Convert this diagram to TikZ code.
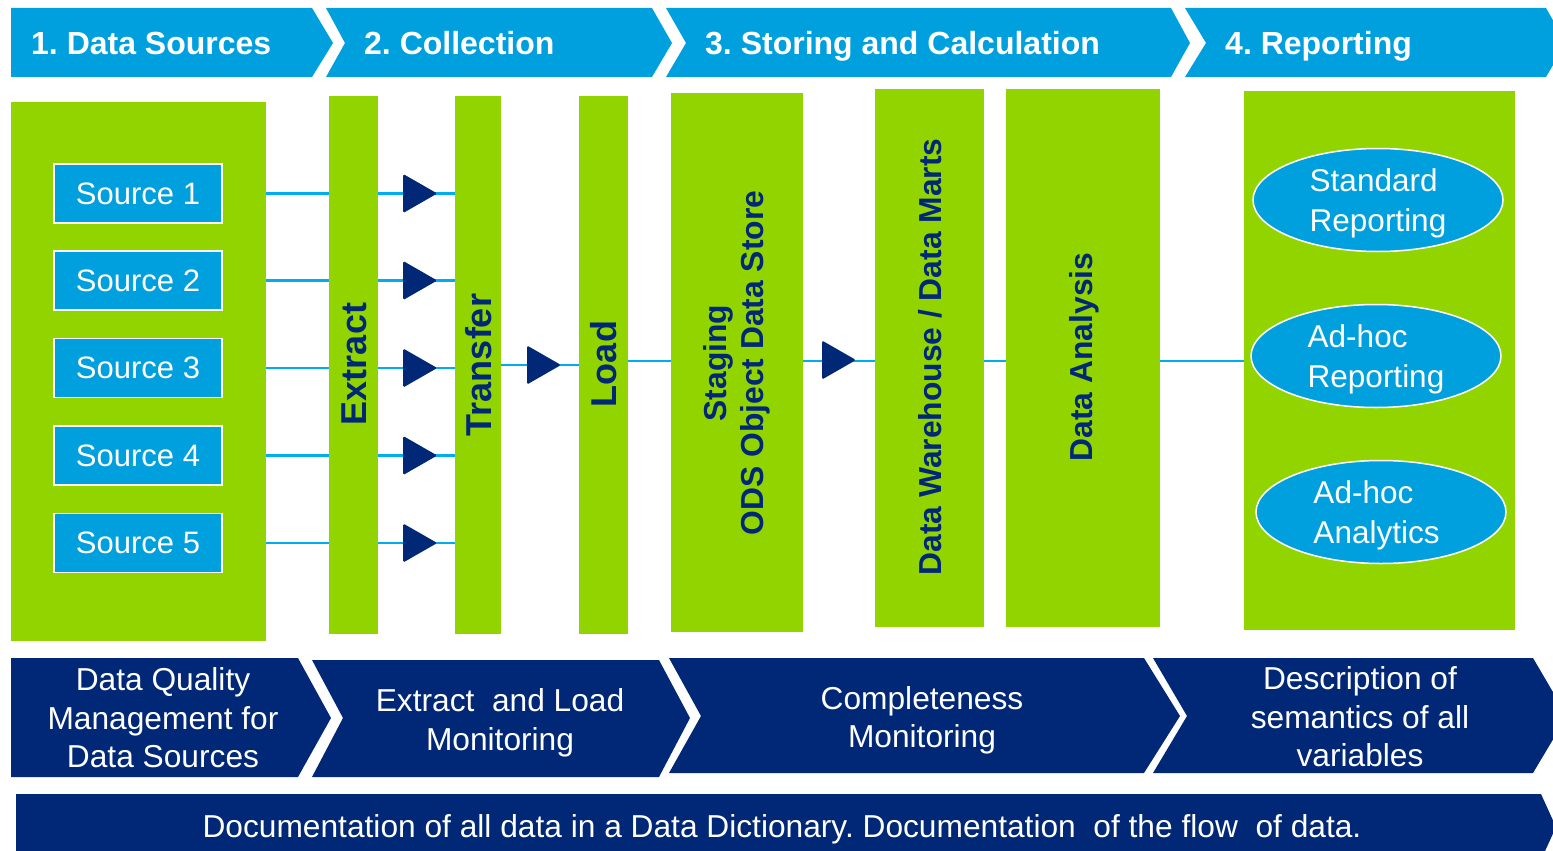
\documentclass[tikz,border=0pt]{standalone}
\usepackage{fontspec}
\setmainfont{Liberation Sans}
\usetikzlibrary{shapes.geometric,calc}
\definecolor{lblue}{RGB}{0,160,223}
\definecolor{lgreen}{RGB}{146,212,0}
\definecolor{navy}{RGB}{0,40,118}
\definecolor{wirec}{RGB}{0,174,239}
\frenchspacing
\begin{document}
\begin{tikzpicture}[x=1pt,y=-1pt,
  block/.style={fill=lgreen,draw=none,inner sep=0pt},
  srcbox/.style={fill=lblue,draw=white,line width=1.5pt,minimum width=168pt,minimum height=59pt,inner sep=0pt,text=white,font=\fontsize{31}{37}\selectfont},
  vlabel/.style={rotate=90,text=navy,font=\bfseries\fontsize{31.8}{37}\selectfont,align=center,inner sep=0pt},
  vbig/.style={vlabel,font=\bfseries\fontsize{36}{40}\selectfont},
  wire/.style={draw=wirec,line width=2.2pt},
  phase/.style={fill=lblue},
  phasetext/.style={anchor=base west,text=white,font=\bfseries\fontsize{32}{38}\selectfont,inner sep=0pt},
  bar/.style={fill=navy},
  bartext/.style={text=white,align=center,text depth=0pt,font=\fontsize{31.7}{38.5}\selectfont,inner sep=0pt},
  report/.style={ellipse,fill=lblue,draw=white,line width=1.5pt,minimum width=250pt,minimum height=103pt,inner sep=0pt,text=white,align=left,text depth=0pt,font=\fontsize{31.5}{40}\selectfont},
  navytri/.pic={\fill[navy,rounded corners=1.5pt] (-17,-19.5) -- (17,0) -- (-17,19.5) -- cycle;}
]
\useasboundingbox (0,0) rectangle (1553,851);
\clip (0,0) rectangle (1553,851);

% green blocks
\node[block,minimum width=255pt,minimum height=539pt] (src) at (138.5,371.5) {};
\node[block,minimum width=49pt,minimum height=538pt] (extract) at (353.5,365) {};
\node[block,minimum width=46pt,minimum height=538pt] (transfer) at (478,365) {};
\node[block,minimum width=49pt,minimum height=538pt] (load) at (603.5,365) {};
\node[block,minimum width=132pt,minimum height=539pt] (staging) at (737,362.5) {};
\node[block,minimum width=109pt,minimum height=538pt] (dw) at (929.5,358) {};
\node[block,minimum width=154pt,minimum height=538pt] (da) at (1083,358) {};
\node[block,minimum width=271pt,minimum height=539pt] (rep) at (1379.5,360.5) {};

% sources
\node[srcbox] (s1) at (138,193.5) {Source 1};
\node[srcbox] (s2) at (138,280.5) {Source 2};
\node[srcbox] (s3) at (138,368) {Source 3};
\node[srcbox] (s4) at (138,455.5) {Source 4};
\node[srcbox] (s5) at (138,543) {Source 5};

% vertical labels
\node[vbig] (lextract) at (354,364) {Extract};
\node[vbig] (ltransfer) at (479,365) {Transfer};
\node[vbig] (lload) at (604,364) {Load};
\node[vlabel] (lstaging) at (737,363) {Staging\\ODS Object Data Store};
\node[vlabel] (ldw) at (930,357) {Data Warehouse / Data Marts};
\node[vlabel] (lda) at (1084,357) {Data Analysis};

% reporting ellipses
\node[report] (r1) at (1378,200) {Standard\\Reporting};
\node[report] (r2) at (1376,356) {Ad-hoc\\Reporting};
\node[report] (r3) at (1381,512) {Ad-hoc\\Analytics\hspace*{9pt}};

% wires and arrowheads
\foreach \s in {s1,s2,s3,s4,s5}{
  \draw[wire] (src.east |- \s.east) -- (extract.west |- \s.east);
  \draw[wire] (extract.east |- \s.east) -- (transfer.west |- \s.east);
  \pic at ($(extract.east |- \s.east)+(42,0)$) {navytri};
}
\coordinate (m1) at (0,365);
\coordinate (m2) at (0,361);
\draw[wire] (transfer.east |- m1) -- (load.west |- m1);
\pic at (544,365) {navytri};
\draw[wire] (load.east |- m2) -- (staging.west |- m2);
\draw[wire] (staging.east |- m2) -- (dw.west |- m2);
\pic at (839,360) {navytri};
\draw[wire] (dw.east |- m2) -- (da.west |- m2);
\draw[wire] (da.east |- m2) -- (rep.west |- m2);

% top phase chevrons
\fill[phase] (11,8) -- (312,8) -- (333,43) -- (312,77) -- (11,77) -- cycle;
\fill[phase] (326,8) -- (652,8) -- (672,43) -- (652,77) -- (326,77) -- (345,43) -- cycle;
\fill[phase] (666,8) -- (1171,8) -- (1190,43) -- (1171,77) -- (666,77) -- (686,43) -- cycle;
\fill[phase] (1185,8) -- (1546,8) -- (1566,43) -- (1546,77) -- (1185,77) -- (1206,43) -- cycle;
\node[phasetext] (p1) at (31,54.5) {1. Data Sources};
\node[phasetext] (p2) at (364,54.5) {2. Collection};
\node[phasetext] (p3) at (705,54.5) {3. Storing and Calculation};
\node[phasetext] (p4) at (1225,54.5) {4. Reporting};

% bottom chevrons
\fill[bar] (11,658) -- (298,658) -- (331,718) -- (298,777) -- (11,777) -- cycle;
\fill[bar] (312,660) -- (659,660) -- (690,718) -- (659,777) -- (312,777) -- (343,718) -- cycle;
\fill[bar] (669,658) -- (1144,658) -- (1180,716) -- (1144,773) -- (669,773) -- (701,716) -- cycle;
\fill[bar] (1153,658) -- (1533,658) -- (1567,716) -- (1533,773) -- (1153,773) -- (1187,716) -- cycle;
\fill[bar] (16,794) -- (1541,794) -- (1556,827) -- (1541,860) -- (16,860) -- cycle;

\node[bartext] (b1) at (163,718) {Data Quality\\Management for\\Data Sources};
\node[bartext] (b2) at (500,719.5) {Extract~ and Load\\Monitoring};
\node[bartext] (b3) at (922,717) {Completeness\\Monitoring};
\node[bartext] (b4) at (1360,717) {Description of\\semantics of all\\variables};
\node[bartext] (doc) at (782,826) {Documentation of all data in a Data Dictionary. Documentation~ of the flow~ of data.};
\end{tikzpicture}
\end{document}
